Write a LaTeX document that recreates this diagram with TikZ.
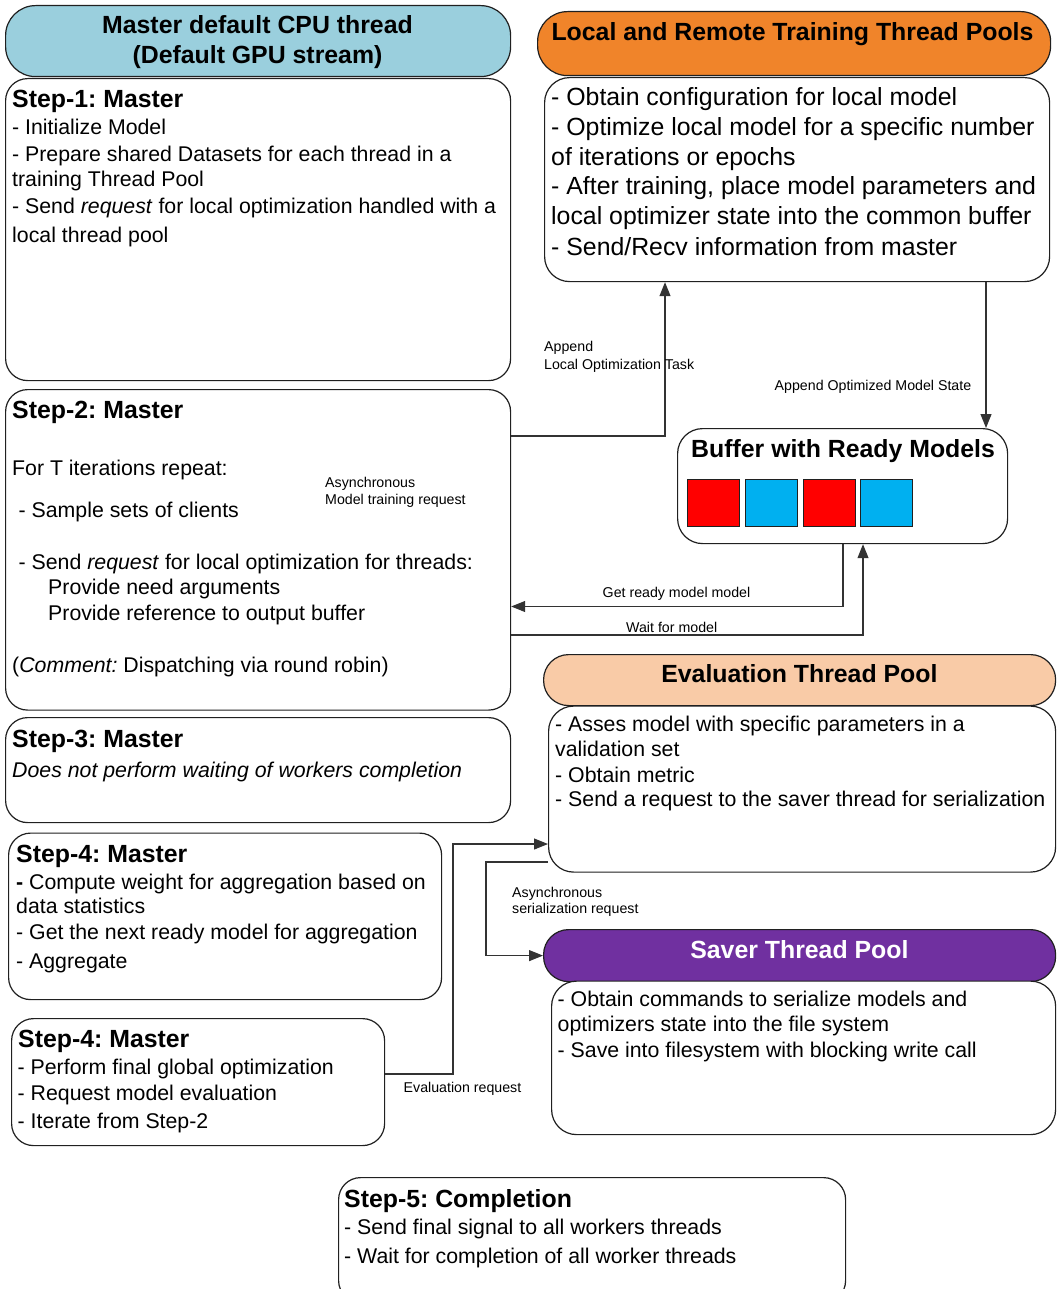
\documentclass[tikz,border=0pt]{standalone}
\usepackage{fontspec}
\setmainfont{Liberation Sans}
\usetikzlibrary{arrows.meta}
\definecolor{hdrblue}{HTML}{9ACFDD}
\definecolor{hdrorange}{HTML}{F0842A}
\definecolor{hdrpeach}{HTML}{F9CBA7}
\definecolor{hdrpurple}{HTML}{7030A0}
\definecolor{sqred}{HTML}{FF0000}
\definecolor{sqblue}{HTML}{00B0F0}
\definecolor{edgec}{HTML}{202020}
\definecolor{connc}{HTML}{333333}
\frenchspacing
\begin{document}
\begin{tikzpicture}[x=1pt,y=-1pt,
  panel/.style={draw=edgec, line width=1.2pt, fill=white, rounded corners=22pt, inner sep=0pt, anchor=north west},
  sq/.style={draw=edgec, line width=1.1pt, inner sep=0pt, anchor=north west, minimum width=52pt, minimum height=46.5pt},
  conn/.style={draw=connc, line width=1.1pt, -{Triangle[length=14pt,width=11pt]}},
  tb/.style={anchor=base west, inner sep=0pt, font=\fontsize{21.3}{25}\selectfont},
  tl/.style={anchor=base west, inner sep=0pt, font=\fontsize{24.85}{30}\selectfont},
  ttl/.style={anchor=base west, inner sep=0pt, font=\fontsize{24.85}{30}\selectfont\bfseries},
  lbl/.style={anchor=base west, inner sep=0pt, font=\fontsize{14.2}{17}\selectfont}]
\useasboundingbox (0,0) rectangle (1058,1289);
\clip (0,0) rectangle (1058,1289);

% ---------- left column ----------
\node[panel, fill=hdrblue, rounded corners=30pt, minimum width=505pt, minimum height=71pt] (mh) at (5,5) {};
\node[panel, minimum width=505pt, minimum height=302pt] (s1) at (5,78) {};
\node[panel, minimum width=505pt, minimum height=320.5pt] (s2) at (5,389) {};
\node[panel, minimum width=505pt, minimum height=105pt] (s3) at (5,717) {};
\node[panel, minimum width=433pt, minimum height=166.5pt] (s4a) at (8,832.5) {};
\node[panel, minimum width=373pt, minimum height=127pt] (s4b) at (11,1018) {};
\node[panel, minimum width=507pt, minimum height=125pt] (s5) at (338,1177) {};

% ---------- right column ----------
\node[panel, fill=hdrorange, rounded corners=30pt, minimum width=513pt, minimum height=64pt] (lrh) at (537,11) {};
\node[panel, rounded corners=25pt, minimum width=505pt, minimum height=204pt] (lrb) at (544,77) {};
\node[panel, rounded corners=25pt, minimum width=330pt, minimum height=115pt] (buf) at (677,428) {};
\node[sq, fill=sqred] (q1) at (687,479) {};
\node[sq, fill=sqblue] (q2) at (745,479) {};
\node[sq, fill=sqred] (q3) at (802.5,479) {};
\node[sq, fill=sqblue] (q4) at (860,479) {};
\node[panel, fill=hdrpeach, rounded corners=25pt, minimum width=512pt, minimum height=51pt] (evh) at (543,654) {};
\node[panel, rounded corners=25pt, minimum width=507pt, minimum height=166pt] (evb) at (548,705.5) {};
\node[panel, fill=hdrpurple, rounded corners=25pt, minimum width=512pt, minimum height=52pt] (svh) at (543,929) {};
\node[panel, rounded corners=25pt, minimum width=504pt, minimum height=153.5pt] (svb) at (551,980.5) {};

% ---------- connectors ----------
\coordinate (e1) at (453,844);
\coordinate (e2) at (486,0);
\draw[conn] (s2.east |- 0,436) -| (lrb.south -| 665,0);
\draw[conn] (lrb.south -| 986,0) -- (buf.north -| 986,0);
\draw[conn] (buf.south -| 843,0) |- (s2.east |- 0,606.5);
\draw[conn] (s2.east |- 0,635) -| (buf.south -| 863,0);
\draw[conn] (s4b.east |- 0,1074) -| (e1) -- (evb.west |- e1);
\draw[conn] (evb.west |- 0,862) -| (e2 |- svh.west) -- (svh.west);

% ---------- texts: master ----------
\node[ttl, anchor=base] (mht1) at (257.5,34) {Master default CPU thread};
\node[ttl, anchor=base] (mht2) at (257.5,64) {(Default GPU stream)};

\node[ttl] (s1t) at (12,108) {Step-1: Master};
\node[tb] (s1a) at (12,135) {- Initialize Model};
\node[tb] (s1b) at (12,161.5) {- Prepare shared Datasets for each thread in a};
\node[tb] (s1c) at (12,187) {training Thread Pool};
\node[tb] (s1d) at (12,213.5) {- Send \textit{request} for local optimization handled with a};
\node[tb] (s1e) at (12,242.5) {local thread pool};

\node[ttl] (s2t) at (12,418) {Step-2: Master};
\node[tb] (s2a) at (12,475) {For T iterations repeat:};
\node[tb] (s2b) at (18.5,517) {- Sample sets of clients};
\node[tb] (s2c) at (18.5,569) {- Send \textit{request} for local optimization for threads:};
\node[tb] (s2d) at (48,594) {Provide need arguments};
\node[tb] (s2e) at (48,620) {Provide reference to output buffer};
\node[tb] (s2f) at (12,672) {(\textit{Comment:} Dispatching via round robin)};
\node[lbl] (l1a) at (325,487) {Asynchronous};
\node[lbl] (l1b) at (325,504) {Model training request};

\node[ttl] (s3t) at (12,747) {Step-3: Master};
\node[tb] (s3a) at (12,777) {\textit{Does not perform waiting of workers completion}};

\node[ttl] (s4t) at (16,862) {Step-4: Master};
\node[tb] (s4aa) at (16,889) {\textbf{-} Compute weight for aggregation based on};
\node[tb] (s4ab) at (16,913.5) {data statistics};
\node[tb] (s4ac) at (16,939.5) {- Get the next ready model for aggregation};
\node[tb] (s4ad) at (16,968.5) {- Aggregate};

\node[ttl] (s4u) at (18,1047) {Step-4: Master};
\node[tb] (s4ba) at (17.5,1074) {- Perform final global optimization};
\node[tb] (s4bb) at (17.5,1100) {- Request model evaluation};
\node[tb] (s4bc) at (17.5,1128.5) {- Iterate from Step-2};

\node[ttl] (s5t) at (344,1207) {Step-5: Completion};
\node[tb] (s5a) at (344,1234.5) {- Send final signal to all workers threads};
\node[tb] (s5b) at (344,1263.5) {- Wait for completion of all worker threads};

% ---------- texts: right ----------
\node[ttl, anchor=base] (lrt) at (792.5,41) {Local and Remote Training Thread Pools};
\node[tl] (lra) at (551,106) {- Obtain configuration for local model};
\node[tl] (lrb1) at (551,136) {- Optimize local model for a specific number};
\node[tl] (lrc) at (551,165.5) {of iterations or epochs};
\node[tl] (lrd) at (551,195) {- After training, place model parameters and};
\node[tl] (lre) at (551,225) {local optimizer state into the common buffer};
\node[tl] (lrf) at (551,255) {- Send/Recv information from master};

\node[lbl] (l2a) at (544,351) {Append};
\node[lbl] (l2b) at (544,369) {Local Optimization Task};
\node[lbl] (l3) at (774.5,390) {Append Optimized Model State};

\node[ttl] (buft) at (691,457) {Buffer with Ready Models};
\node[lbl] (l4) at (602.5,597) {Get ready model model};
\node[lbl] (l5) at (626,632) {Wait for model};

\node[ttl, anchor=base] (evt) at (799.4,682) {Evaluation Thread Pool};
\node[tb] (eva) at (555,731.5) {- Asses model with specific parameters in a};
\node[tb] (evb1) at (555,756) {validation set};
\node[tb] (evc) at (555,782.5) {- Obtain metric};
\node[tb] (evd) at (555,806.5) {- Send a request to the saver thread for serialization};

\node[lbl] (l6a) at (512,897) {Asynchronous};
\node[lbl] (l6b) at (512,913.5) {serialization request};
\node[lbl] (l7) at (403.5,1092) {Evaluation request};

\node[ttl, anchor=base, text=white] (svt) at (799.4,958) {Saver Thread Pool};
\node[tb] (sva) at (557.5,1006.5) {- Obtain commands to serialize models and};
\node[tb] (svb1) at (557.5,1031.5) {optimizers state into the file system};
\node[tb] (svc) at (557.5,1057) {- Save into filesystem with blocking write call};
\end{tikzpicture}
\end{document}
